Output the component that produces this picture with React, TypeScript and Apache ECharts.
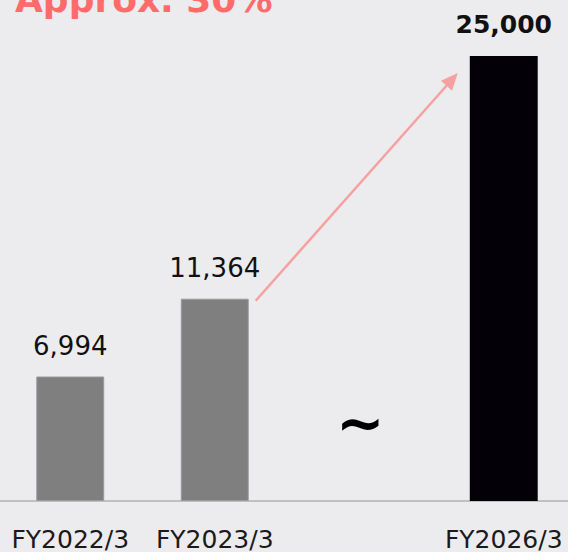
import { useEffect, useRef } from "react";
import * as echarts from "echarts";

const categories = ["FY2022/3", "FY2023/3", "", "FY2026/3"];
const values: (number | null)[] = [6994, 11364, null, 25000];
const titleText = "Approx. 30%";
const gapMark = "~";
const yMax = 25000;

const FONT = "'DejaVu Sans', Verdana, sans-serif";

export default function App() {
  const ref = useRef<HTMLDivElement>(null);
  useEffect(() => {
    const chart = echarts.init(ref.current!, null, { renderer: "svg" });
    const target = values.length - 1;
    const BAR_RATIO = 0.47;
    chart.setOption({
      animation: false,
      backgroundColor: "#ececee",
      grid: {
        left: -2,
        width: 578,
        top: 56,
        bottom: 51,
        containLabel: false,
        outerBoundsMode: "none",
      },
      xAxis: {
        type: "category",
        data: categories,
        axisLine: { lineStyle: { color: "#c0c0c0", width: 2 } },
        axisTick: { show: false },
        axisLabel: { fontSize: 25, color: "#1a1a1a", fontFamily: FONT, margin: 26, interval: 0 },
      },
      yAxis: { type: "value", min: 0, max: yMax, show: false, splitLine: { show: false } },
      series: [
        {
          type: "bar",
          barWidth: BAR_RATIO * 100 + "%",
          data: values.map((v, i) =>
            v == null
              ? null
              : i === target
              ? {
                  value: v,
                  itemStyle: { color: "#040008", borderColor: "#040008", borderWidth: 0 },
                  label: { fontWeight: "bold", fontSize: 25, distance: 19 },
                }
              : { value: v }
          ),
          itemStyle: { color: "#7f7f7f", borderColor: "#9a9a9a", borderWidth: 1 },
          label: {
            show: true,
            position: "top",
            distance: 18,
            fontSize: 26,
            color: "#111111",
            fontFamily: FONT,
            formatter: (p: any) => Number(p.value).toLocaleString("en-US"),
          },
        },
      ],
    });

    const px = (i: number, v: number) => chart.convertToPixel({ seriesIndex: 0 }, [i, v]) as number[];
    const c0 = px(0, 0);
    const c1 = px(1, values[1] as number);
    const c2 = px(2, 4400);
    const c3 = px(3, values[3] as number);
    const band = c1[0] - c0[0];
    const half = (band * BAR_RATIO) / 2;
    const start = [c1[0] + half + 7, c1[1] + 2];
    const tip = [c3[0] - half - 12, c3[1] + 17];
    const dx = tip[0] - start[0];
    const dy = tip[1] - start[1];
    const len = Math.sqrt(dx * dx + dy * dy);
    const ux = dx / len;
    const uy = dy / len;
    const headLen = 17;
    const headW = 7.5;
    const base = [tip[0] - ux * headLen, tip[1] - uy * headLen];
    const arrowColor = "#f6a1a1";

    chart.setOption({
      graphic: [
        {
          type: "text",
          left: 15,
          top: -19,
          style: { text: titleText, font: `bold 36px ${FONT}`, fill: "#ff6b6b" },
        },
        {
          type: "line",
          shape: { x1: start[0], y1: start[1], x2: base[0] + ux * 2, y2: base[1] + uy * 2 },
          style: { stroke: arrowColor, lineWidth: 2.5 },
        },
        {
          type: "polygon",
          shape: {
            points: [
              tip,
              [base[0] - uy * headW, base[1] + ux * headW],
              [base[0] + uy * headW, base[1] - ux * headW],
            ],
          },
          style: { fill: arrowColor },
        },
        {
          type: "text",
          x: c2[0] + 1,
          y: c2[1],
          style: {
            text: gapMark,
            font: `bold 58px ${FONT}`,
            fill: "#000000",
            align: "center",
            verticalAlign: "middle",
          },
        },
      ],
    });
    return () => chart.dispose();
  }, []);
  return (
    <div
      ref={ref}
      style={{ position: "absolute", left: 0, top: 0, width: 568, height: 552 }}
    />
  );
}
